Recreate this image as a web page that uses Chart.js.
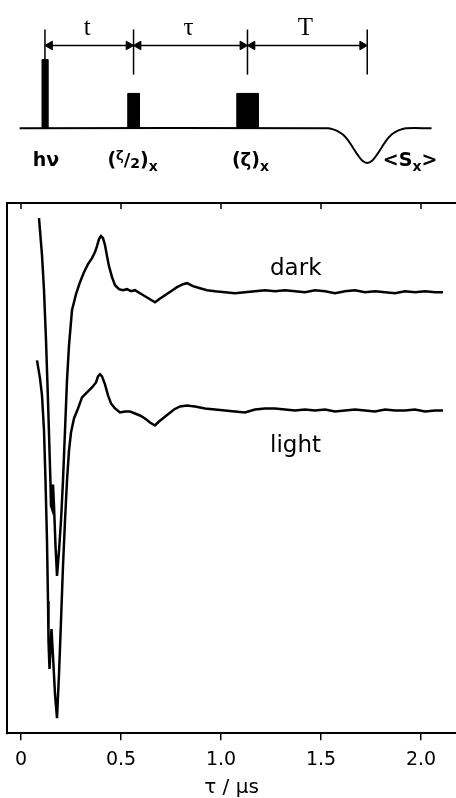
<!DOCTYPE html>
<html>
<head>
<meta charset="utf-8">
<script src="https://cdn.jsdelivr.net/npm/chart.js@4.4.1/dist/chart.umd.min.js"></script>
<style>
  body { margin: 0; background: #fff; }
  #wrap { position: relative; width: 456px; height: 798px; overflow: hidden; }
  canvas { position: absolute; left: 0; top: 0; }
</style>
</head>
<body>
<div id="wrap">
  <canvas id="grafico" width="456" height="798"></canvas>
  <canvas id="esquema" width="456" height="200"></canvas>
</div>
<script>
// datos de las curvas (tau en microsegundos, senal en unidades arbitrarias)
const darkTau = [0.090, 0.105, 0.115, 0.125, 0.135, 0.1425, 0.1475, 0.150, 0.155, 0.160,
  0.165, 0.1725, 0.180, 0.190, 0.200, 0.210, 0.220, 0.230, 0.240, 0.255,
  0.275, 0.295, 0.315, 0.335, 0.355, 0.370, 0.380, 0.390, 0.400, 0.410,
  0.420, 0.430, 0.440, 0.455, 0.470, 0.490, 0.510, 0.530, 0.550, 0.570,
  0.595, 0.620, 0.645, 0.670, 0.690, 0.720, 0.750, 0.780, 0.810, 0.830,
  0.860, 0.895, 0.930, 0.970, 1.020, 1.070, 1.120, 1.170, 1.220, 1.270,
  1.320, 1.370, 1.420, 1.470, 1.520, 1.570, 1.620, 1.670, 1.720, 1.770,
  1.820, 1.870, 1.920, 1.970, 2.020, 2.070, 2.110];
const darkSignal = [51.4, 47.7, 44.2, 39.2, 33.2, 28.2, 24.9, 22.7, 22.4, 24.8,
  22.7, 18.7, 15.7, 18.2, 21.2, 25.2, 30.2, 35.2, 38.7, 42.2,
  43.8, 45.0, 46.0, 46.8, 47.4, 48.0, 48.6, 49.3, 49.6, 49.4,
  48.7, 47.6, 46.6, 45.5, 44.7, 44.3, 44.2, 44.3, 44.1, 44.2,
  43.9, 43.6, 43.3, 43.0, 43.3, 43.7, 44.1, 44.5, 44.8, 44.9,
  44.6, 44.4, 44.2, 44.1, 44.0, 43.9, 44.0, 44.1, 44.2, 44.1,
  44.2, 44.1, 44.0, 44.2, 44.1, 43.9, 44.1, 44.2, 44.0, 44.1,
  44.0, 43.9, 44.1, 44.0, 44.1, 44.0, 44.0];

const lightTau = [0.080, 0.095, 0.105, 0.115, 0.1225, 0.130, 0.135, 0.1375, 0.1425, 0.1475,
  0.1525, 0.160, 0.170, 0.180, 0.190, 0.200, 0.210, 0.220, 0.230, 0.240,
  0.250, 0.265, 0.285, 0.305, 0.330, 0.355, 0.375, 0.385, 0.395, 0.405,
  0.420, 0.435, 0.450, 0.470, 0.495, 0.520, 0.545, 0.570, 0.595, 0.620,
  0.645, 0.670, 0.690, 0.715, 0.740, 0.765, 0.795, 0.830, 0.870, 0.920,
  0.970, 1.020, 1.070, 1.120, 1.170, 1.220, 1.270, 1.320, 1.370, 1.420,
  1.470, 1.520, 1.570, 1.620, 1.670, 1.720, 1.770, 1.820, 1.870, 1.920,
  1.970, 2.020, 2.070, 2.110];
const lightSignal = [37.2, 35.4, 33.7, 30.2, 25.2, 19.2, 13.2, 9.2, 6.4, 8.4,
  10.4, 7.7, 3.9, 1.5, 5.9, 11.2, 16.7, 21.2, 25.2, 28.2,
  30.0, 31.4, 32.4, 33.5, 34.0, 34.5, 35.0, 35.6, 35.8, 35.6,
  34.8, 33.7, 32.9, 32.4, 32.0, 32.1, 32.1, 31.9, 31.7, 31.4,
  31.0, 30.7, 31.1, 31.5, 31.9, 32.3, 32.6, 32.7, 32.6, 32.4,
  32.3, 32.2, 32.1, 32.0, 32.3, 32.4, 32.4, 32.3, 32.2, 32.3,
  32.2, 32.3, 32.1, 32.2, 32.3, 32.2, 32.1, 32.3, 32.2, 32.2,
  32.3, 32.1, 32.2, 32.2];

const curveLabels = ["dark", "light"];
const labelTau = [1.245, 1.245];
const labelSignal = [45.7, 28.1];
const tauTicks = [0, 0.5, 1.0, 1.5, 2.0];

// datos del esquema de pulsos (eje de tiempo esquematico)
const pulseStart = [-0.03, 0.85, 1.97];
const pulseEnd = [0.03, 0.97, 2.19];
const pulseHeight = [7.3, 3.7, 3.7];
const markerTime = [0, 0.91, 2.08, 3.31];
const markerBottom = [7.3, 5.7, 5.7, 5.7];
const echoX = [-0.26, 2.91, 2.96, 3.01, 3.06, 3.11, 3.16, 3.21, 3.26, 3.31, 3.36, 3.41, 3.46, 3.51, 3.56, 3.61, 3.66, 3.71, 3.97];
const echoY = [0, 0, -0.13, -0.33, -0.68, -1.25, -2.02, -2.82, -3.46, -3.7, -3.46, -2.82, -2.02, -1.25, -0.68, -0.33, -0.13, 0, 0];
const intervalLabels = ["t", "τ", "T"];

Chart.defaults.font.family = "'DejaVu Sans', sans-serif";
Chart.defaults.color = "#000";

// marco superior/izquierdo, marcas de arriba y nombres de las curvas
const marco = {
    id: "marco",
    afterDraw(chart) {
        const { ctx, chartArea: a, scales: { x, y } } = chart;
        ctx.save();
        ctx.strokeStyle = "#000";
        ctx.lineWidth = 2;
        ctx.beginPath();
        ctx.moveTo(a.left, a.bottom + 1);
        ctx.lineTo(a.left, a.top);
        ctx.lineTo(a.right, a.top);
        ctx.stroke();
        ctx.lineWidth = 1.5;
        x.ticks.forEach(t => {
            const px = x.getPixelForValue(t.value);
            ctx.beginPath();
            ctx.moveTo(px, a.top);
            ctx.lineTo(px, a.top + 6);
            ctx.stroke();
        });
        ctx.fillStyle = "#000";
        ctx.font = "23px 'DejaVu Sans'";
        ctx.textAlign = "left";
        ctx.textBaseline = "alphabetic";
        curveLabels.forEach((s, i) => {
            ctx.fillText(s, x.getPixelForValue(labelTau[i]), y.getPixelForValue(labelSignal[i]));
        });
        ctx.restore();
    }
};

new Chart(document.getElementById("grafico"), {
    type: "line",
    data: {
        datasets: [
            {
                label: "dark",
                data: darkTau.map((t, i) => ({ x: t, y: darkSignal[i] })),
                borderColor: "#000", borderWidth: 2.5, pointRadius: 0, tension: 0
            },
            {
                label: "light",
                data: lightTau.map((t, i) => ({ x: t, y: lightSignal[i] })),
                borderColor: "#000", borderWidth: 2.5, pointRadius: 0, tension: 0
            }
        ]
    },
    options: {
        responsive: false,
        animation: false,
        layout: { padding: { top: 203, left: 7, right: 0, bottom: -2 } },
        plugins: { legend: { display: false }, tooltip: { enabled: false } },
        scales: {
            x: {
                type: "linear", min: -0.07, max: 2.175,
                border: { color: "#000", width: 2 },
                grid: { drawOnChartArea: false, color: "#000", tickLength: 7, lineWidth: 1.5 },
                afterBuildTicks: s => { s.ticks = tauTicks.map(v => ({ value: v })); },
                ticks: {
                    color: "#000", font: { size: 19 }, padding: 8, maxRotation: 0, autoSkip: false,
                    callback: v => v === 0 ? "0" : v.toFixed(1)
                },
                title: { display: true, text: "τ / μs", color: "#000", font: { size: 20 }, padding: { top: -3, bottom: 0 } }
            },
            y: { display: false, min: 0, max: 52.9 }
        }
    },
    plugins: [marco]
});

// esquema de la secuencia de pulsos
function drawParts(ctx, parts, cx, baseY) {
    let total = 0;
    parts.forEach(p => {
        ctx.font = `bold ${p[1]}px 'DejaVu Sans'`;
        total += ctx.measureText(p[0]).width;
    });
    let xpos = cx - total / 2;
    parts.forEach(p => {
        ctx.font = `bold ${p[1]}px 'DejaVu Sans'`;
        ctx.fillText(p[0], xpos, baseY + p[2]);
        xpos += ctx.measureText(p[0]).width;
    });
}

const eventTexts = [
    [["hν", 19, 0]],
    [["(", 19, 0], ["ζ", 13, -6], ["/", 18, 0], ["2", 14, 2], [")", 19, 0], ["x", 14, 5]],
    [["(", 19, 0], ["ζ", 18, 0], [")", 19, 0], ["x", 14, 5]],
    [["<S", 19, 0], ["x", 14, 5], [">", 19, 0]]
];
const eventX = [0.01, 0.90, 2.11, 3.75];

const textos = {
    id: "textos",
    afterDraw(chart) {
        const { ctx, scales: { x, y } } = chart;
        ctx.save();
        ctx.fillStyle = "#000";
        ctx.textAlign = "left";
        ctx.textBaseline = "alphabetic";
        eventTexts.forEach((parts, i) => drawParts(ctx, parts, x.getPixelForValue(eventX[i]), y.getPixelForValue(-4.0)));
        ctx.font = "25px 'Liberation Serif'";
        ctx.textAlign = "center";
        intervalLabels.forEach((s, i) => {
            const mid = (markerTime[i] + markerTime[i + 1]) / 2 - 0.02;
            ctx.fillText(s, x.getPixelForValue(mid), y.getPixelForValue(9.9));
        });
        ctx.restore();
    }
};

const esquemaSets = [];
esquemaSets.push({
    data: echoX.map((v, i) => ({ x: v, y: echoY[i] })),
    borderColor: "#000", borderWidth: 2, pointRadius: 0, tension: 0.3
});
pulseStart.forEach((s, i) => {
    esquemaSets.push({
        data: [{ x: s, y: 0 }, { x: s, y: pulseHeight[i] }, { x: pulseEnd[i], y: pulseHeight[i] }, { x: pulseEnd[i], y: 0 }],
        borderColor: "#000", borderWidth: 1, backgroundColor: "#000", fill: "origin", pointRadius: 0
    });
});
markerTime.forEach((m, i) => {
    esquemaSets.push({
        data: [{ x: m, y: markerBottom[i] }, { x: m, y: 10.5 }],
        borderColor: "#000", borderWidth: 1.5, pointRadius: 0
    });
});
for (let i = 0; i < markerTime.length - 1; i++) {
    esquemaSets.push({
        data: [{ x: markerTime[i] + 0.05, y: 8.8 }, { x: markerTime[i + 1] - 0.05, y: 8.8 }],
        borderColor: "#000", borderWidth: 1.5,
        pointStyle: "triangle", pointRadius: 5, pointRotation: [270, 90],
        pointBackgroundColor: "#000", pointBorderColor: "#000", pointBorderWidth: 1
    });
}

new Chart(document.getElementById("esquema"), {
    type: "line",
    data: { datasets: esquemaSets },
    options: {
        responsive: false,
        animation: false,
        layout: { padding: 0 },
        plugins: { legend: { display: false }, tooltip: { enabled: false } },
        scales: {
            x: { type: "linear", display: false, min: -0.40, max: 4.16 },
            y: { display: false, min: -7, max: 13 }
        }
    },
    plugins: [textos]
});
</script>
</body>
</html>
